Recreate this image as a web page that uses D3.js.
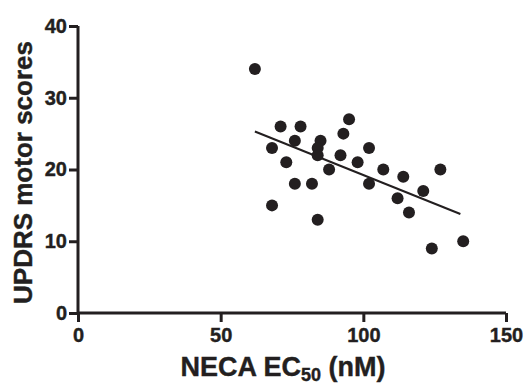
<!DOCTYPE html>
<html>
<head>
<meta charset="utf-8">
<script src="https://cdn.jsdelivr.net/npm/d3@7"></script>
<style>
  body { margin: 0; background: #fff; }
  text { font-family: "Liberation Sans", Arial, Helvetica, sans-serif; font-weight: bold; fill: #231f20; stroke: #231f20; stroke-width: 0.4px; }
</style>
</head>
<body>
<script>
// values
var necaEC50 = [62, 68, 71, 78, 76, 73, 76, 82, 68, 84, 85, 84, 84, 88, 92, 93, 95, 98, 102, 102, 107, 114, 112, 116, 121, 127, 124, 135]
var updrs    = [34, 23, 26, 26, 24, 21, 18, 18, 15, 13, 24, 23, 22, 20, 22, 25, 27, 21, 23, 18, 20, 19, 16, 14, 17, 20, 9, 10]
// regression line ends
var fitX = [62, 134]
var fitY = [25.3, 13.8]
var xTicks = [0, 50, 100, 150]
var yTicks = [0, 10, 20, 30, 40]

var width = 527, height = 385
var svg = d3.select("body").append("svg")
            .attr("width", width)
            .attr("height", height)

var x = d3.scaleLinear().domain([0, 150]).range([78, 506])
var y = d3.scaleLinear().domain([0, 40]).range([313, 26])

// axes
var xAxis = svg.append("g")
               .attr("transform", "translate(0," + y(0) + ")")
               .call(d3.axisBottom(x).tickValues(xTicks).tickSize(9).tickPadding(6))
var yAxis = svg.append("g")
               .attr("transform", "translate(" + x(0) + ",0)")
               .call(d3.axisLeft(y).tickValues(yTicks).tickSize(9).tickPadding(2))

svg.selectAll(".domain").attr("stroke", "#231f20").attr("stroke-width", 3)
svg.selectAll(".tick line").attr("stroke", "#231f20").attr("stroke-width", 3)
svg.selectAll(".tick text").style("font-size", "20px")
xAxis.selectAll(".domain").attr("d", "M" + x(0) + ",0H" + x(150))
yAxis.selectAll(".domain").attr("d", "M0," + y(0) + "V" + y(40))

// regression line
svg.append("line")
   .attr("x1", x(fitX[0])).attr("y1", y(fitY[0]))
   .attr("x2", x(fitX[1])).attr("y2", y(fitY[1]))
   .attr("stroke", "#231f20")
   .attr("stroke-width", 2)

// points
svg.selectAll("circle.pt")
   .data(d3.range(necaEC50.length))
   .enter().append("circle")
   .attr("class", "pt")
   .attr("cx", function(i){ return x(necaEC50[i]) })
   .attr("cy", function(i){ return y(updrs[i]) })
   .attr("r", 6)
   .attr("fill", "#231f20")

// axis titles
svg.append("text")
   .attr("transform", "translate(32," + ((y(0) + y(40)) / 2 + 3) + ") rotate(-90)")
   .attr("text-anchor", "middle")
   .style("font-size", "26px")
   .text("UPDRS motor scores")

var xt = svg.append("text")
            .attr("x", 283)
            .attr("y", 376)
            .attr("text-anchor", "middle")
            .style("font-size", "27px")
xt.append("tspan").text("NECA EC")
xt.append("tspan").attr("dy", 5).style("font-size", "18px").text("50")
xt.append("tspan").attr("dy", -5).text(" (nM)")
</script>
</body>
</html>
